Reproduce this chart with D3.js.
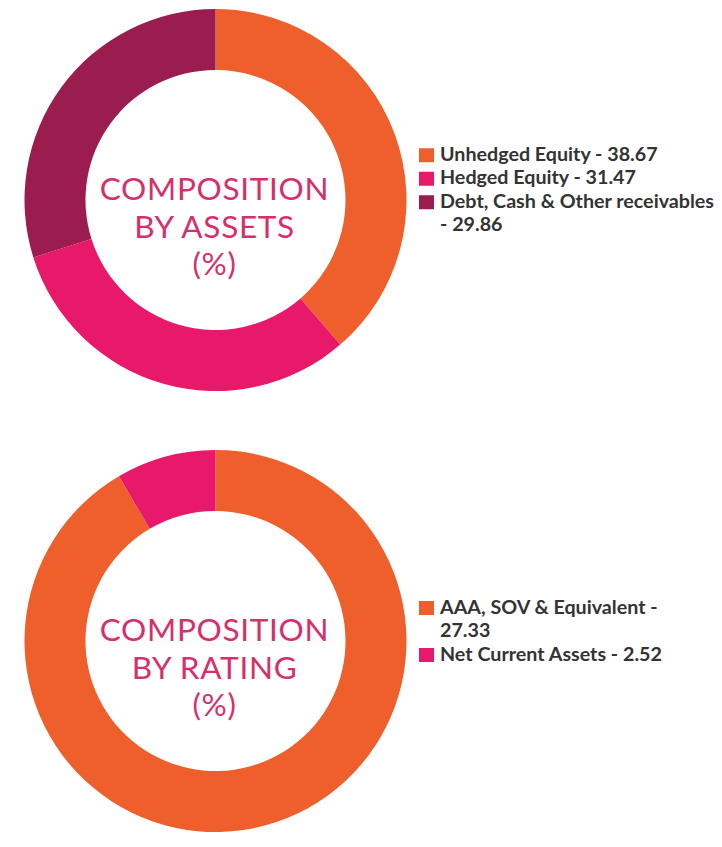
<!DOCTYPE html>
<html>
<head>
    <title>Composition</title>
    <script src="https://cdnjs.cloudflare.com/ajax/libs/d3/7.8.5/d3.min.js"></script>
    <style>
        body {
            margin: 0;
            background: #ffffff;
            font-family: Lato, "Open Sans", Arial, sans-serif;
        }
    </style>
</head>
<body>
    <svg id="chart" width="722" height="847"></svg>

    <script>
        // Datos
        const assetLabels = ["Unhedged Equity", "Hedged Equity", "Debt, Cash & Other receivables"];
        const assetValues = [38.67, 31.47, 29.86];
        const assetColors = ["#ee5f2b", "#e8196a", "#9b1c4f"];
        const assetTitle = ["COMPOSITION", "BY ASSETS", "(%)"];

        const ratingLabels = ["AAA, SOV & Equivalent", "Net Current Assets"];
        const ratingValues = [27.33, 2.52];
        const ratingColors = ["#ee5f2b", "#e8196a"];
        const ratingTitle = ["COMPOSITION", "BY RATING", "(%)"];

        const svg = d3.select("#chart");
        const outerR = 191;
        const innerR = 130;
        const lineH = 23.5;
        const legendFont = 19.7;

        const pie = d3.pie().sort(null).value(d => d.value);
        const arc = d3.arc().innerRadius(innerR).outerRadius(outerR);

        // partir texto en líneas según ancho
        function wrapWords(text, maxWidth, measure) {
            const words = text.split(" ");
            const lines = [];
            let line = "";
            words.forEach(w => {
                const test = line ? line + " " + w : w;
                if (line && measure(test) > maxWidth) {
                    lines.push(line);
                    line = w;
                } else {
                    line = test;
                }
            });
            if (line) lines.push(line);
            return lines;
        }

        function drawDonut(cx, cy, labels, values, colors, title, legendWidth) {
            const data = labels.map((l, i) => ({label: l, value: values[i], color: colors[i]}));
            const g = svg.append("g").attr("transform", `translate(${cx},${cy})`);

            g.selectAll("path")
                .data(pie(data))
                .join("path")
                .attr("d", arc)
                .attr("fill", d => d.data.color);

            g.selectAll("text.title")
                .data(title)
                .join("text")
                .attr("class", "title")
                .attr("x", -1)
                .attr("y", (d, i) => i * 37.5)
                .attr("text-anchor", "middle")
                .attr("font-size", 31.5)
                .attr("font-weight", 400)
                .attr("letter-spacing", 0.7)
                .attr("fill", "#d6306c")
                .text(d => d);

            // Leyenda
            const measurer = svg.append("text")
                .attr("font-size", legendFont)
                .attr("font-weight", "bold")
                .attr("visibility", "hidden");
            const measure = s => { measurer.text(s); return measurer.node().getComputedTextLength(); };

            const items = data.map(d => ({
                color: d.color,
                lines: wrapWords(d.label + " - " + d.value.toFixed(2), legendWidth, measure)
            }));
            measurer.remove();

            const nLines = d3.sum(items, d => d.lines.length);
            let y = cy - (nLines - 1) * lineH / 2 - 4;
            const lx = 419;

            items.forEach(item => {
                svg.append("rect")
                    .attr("x", lx)
                    .attr("y", y - 12.5)
                    .attr("width", 15)
                    .attr("height", 14)
                    .attr("fill", item.color);
                item.lines.forEach(line => {
                    svg.append("text")
                        .attr("x", lx + 21)
                        .attr("y", y)
                        .attr("font-size", legendFont)
                        .attr("font-weight", "bold")
                        .attr("fill", "#333333")
                        .text(line);
                    y += lineH;
                });
            });
        }

        drawDonut(215.5, 200, assetLabels, assetValues, assetColors, assetTitle, 280);
        drawDonut(215.5, 641, ratingLabels, ratingValues, ratingColors, ratingTitle, 238);
    </script>
</body>
</html>
